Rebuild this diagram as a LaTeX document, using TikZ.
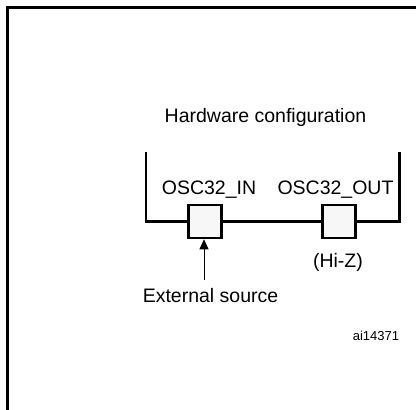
\documentclass[tikz,border=0pt]{standalone}
\usepackage{fontspec}
\setmainfont{Liberation Sans}
\usetikzlibrary{arrows.meta}

\begin{document}
\begin{tikzpicture}[x=1pt, y=-1pt, font=\fontsize{19.5}{22}\selectfont]

  \useasboundingbox (0,0) rectangle (416,410);

  % Figure frame
  \path[draw, line width=3pt] (416,7.5) -- (7.5,7.5) -- (7.5,410);

  % Pin boxes
  \node[draw, line width=2.6pt, fill=black!3, minimum size=33pt, inner sep=0pt] (in) at (205,221.5) {};
  \node[draw, line width=2.6pt, fill=black!3, minimum size=33pt, inner sep=0pt] (out) at (339,221.5) {};
  % Bracket ends
  \coordinate (tl) at (146,152);
  \coordinate (tr) at (399.5,152);
  % Free end of the source arrow
  \coordinate (src) at (204,280);

  % Labels
  \node (hw) at (265.5,117) {Hardware configuration};
  \node (inl) at (209,190) {OSC32\_IN};
  \node (outl) at (335.5,190) {OSC32\_OUT};
  \node (hiz) at (338,262) {(Hi-Z)};
  \node (ext) at (210.5,296) {External source};
  \node[font=\fontsize{13}{15}\selectfont] (ref) at (376,336) {ai14371};

  % Bracket connections
  \path[draw, line width=2.6pt] (tl) |- (in.west);
  \path[draw, line width=2.6pt] (in.east) to (out.west);
  \path[draw, line width=2.6pt] (out.east) -| (tr);

  % External source arrow
  \path[draw, line width=1pt, -{Triangle[length=10pt, width=9pt]}] (src) to (src |- in.south);

\end{tikzpicture}
\end{document}
